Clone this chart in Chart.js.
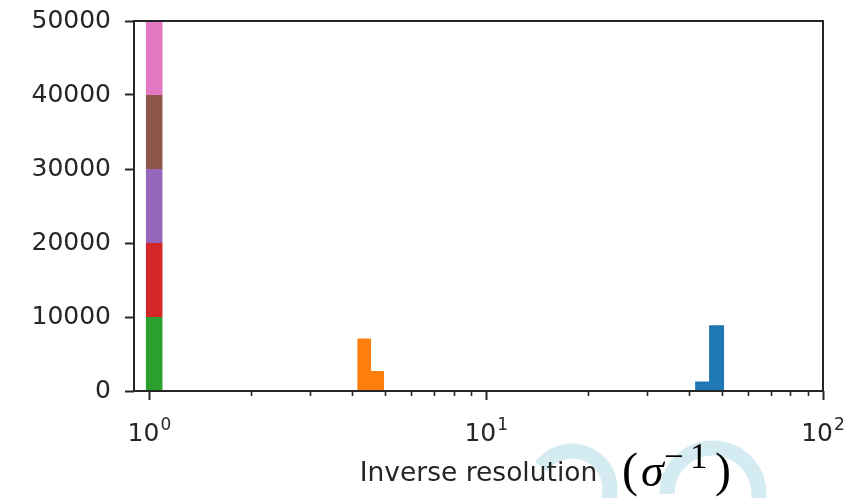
<!DOCTYPE html>
<html>
<head>
<meta charset="utf-8">
<script src="https://cdn.jsdelivr.net/npm/chart.js@4/dist/chart.umd.min.js"></script>
<style>
  html, body { margin: 0; padding: 0; background: #ffffff; }
  #wrap { width: 864px; height: 498px; }
</style>
</head>
<body>
<div id="wrap"><canvas id="hist" width="864" height="498"></canvas></div>
<script>
// Histogram bin edges (inverse resolution, log axis) and counts per series
const orangeEdges = [4.14, 4.55, 4.98];
const orangeCounts = [7100, 2700];
const blueEdges = [41.7, 45.9, 50.9];
const blueCounts = [1300, 8900];
// Stacked single-bin series sitting at 10^0
const stackEdges = [0.975, 1.095];
const stackCounts = [10000, 10000, 10000, 10000, 10000];
const stackColors = ['#2ca02c', '#d62728', '#9467bd', '#8c564b', '#e377c2'];
// Axis ticks
const xMajorTicks = [1, 10, 100];
const xTickBase = '10';
const xTickExponents = ['0', '1', '2'];
const yTicks = [0, 10000, 20000, 30000, 40000, 50000];

// Turn bin edges + counts into a closed step outline filled down to `base`
function stepOutline(edges, counts, base) {
  const pts = [{ x: edges[0], y: base }];
  counts.forEach((c, i) => {
    pts.push({ x: edges[i], y: base + c });
    pts.push({ x: edges[i + 1], y: base + c });
  });
  pts.push({ x: edges[edges.length - 1], y: base });
  return pts;
}

function histDataset(points, color, base) {
  return {
    data: points,
    backgroundColor: color,
    borderColor: color,
    borderWidth: 0,
    pointRadius: 0,
    tension: 0,
    fill: base === 0 ? 'origin' : { value: base }
  };
}

const datasets = [
  histDataset(stepOutline(blueEdges, blueCounts, 0), '#1f77b4', 0),
  histDataset(stepOutline(orangeEdges, orangeCounts, 0), '#ff7f0e', 0)
];
let base = 0;
stackCounts.forEach((c, i) => {
  datasets.push(histDataset(stepOutline(stackEdges, [c], base), stackColors[i], base));
  base += c;
});

const axisColor = '#262626';
const textColor = '#262626';
const tickFont = '"DejaVu Sans"';

// Background, decorative rings behind the figure
const backdrop = {
  id: 'backdrop',
  beforeDraw(chart) {
    const ctx = chart.ctx;
    ctx.save();
    ctx.fillStyle = '#ffffff';
    ctx.fillRect(0, 0, chart.width, chart.height);
    ctx.strokeStyle = '#d3ebf1';
    ctx.lineWidth = 15;
    ctx.beginPath();
    ctx.arc(572, 489, 38, Math.PI * 1.2, Math.PI * 2.2);
    ctx.stroke();
    ctx.beginPath();
    ctx.arc(713, 494, 46, Math.PI, Math.PI * 2.1);
    ctx.stroke();
    ctx.restore();
  }
};

// Full frame, minor log ticks, power-of-ten labels and the unit annotation
const frame = {
  id: 'frame',
  afterDraw(chart) {
    const { ctx, chartArea: a } = chart;
    const xs = chart.scales.x;
    ctx.save();
    ctx.strokeStyle = axisColor;
    ctx.lineWidth = 2;
    ctx.strokeRect(a.left, a.top, a.right - a.left, a.bottom - a.top);
    ctx.lineWidth = 1.6;
    ctx.beginPath();
    for (let k = -1; k <= 2; k++) {
      for (let m = 2; m <= 9; m++) {
        const v = m * Math.pow(10, k);
        if (v <= xs.min || v >= xs.max) continue;
        const px = Math.round(xs.getPixelForValue(v)) + 0.5;
        ctx.moveTo(px, a.bottom);
        ctx.lineTo(px, a.bottom + 5);
      }
    }
    ctx.stroke();

    // x tick labels as 10 with a raised exponent
    ctx.fillStyle = textColor;
    ctx.textBaseline = 'alphabetic';
    ctx.textAlign = 'left';
    xMajorTicks.forEach((v, i) => {
      ctx.font = '25px ' + tickFont;
      const wb = ctx.measureText(xTickBase).width;
      ctx.font = '17px ' + tickFont;
      const we = ctx.measureText(xTickExponents[i]).width;
      const cx = xs.getPixelForValue(v);
      const x0 = cx - (wb + we + 1) / 2;
      ctx.font = '25px ' + tickFont;
      ctx.fillText(xTickBase, x0, a.bottom + 50);
      ctx.font = '17px ' + tickFont;
      ctx.fillText(xTickExponents[i], x0 + wb + 1, a.bottom + 39);
    });

    // unit annotation next to the axis title
    ctx.fillStyle = '#000000';
    ctx.font = '48px "Liberation Serif"';
    ctx.fillText('(', 622, 486);
    ctx.font = 'italic 46px "Liberation Serif"';
    ctx.fillText('\u03c3', 641, 486);
    ctx.font = '35px "Liberation Serif"';
    ctx.fillText('\u2212', 664, 468);
    ctx.fillText('1', 690, 468);
    ctx.font = '48px "Liberation Serif"';
    ctx.fillText(')', 715, 486);
    ctx.restore();
  }
};

new Chart(document.getElementById('hist'), {
  type: 'line',
  data: { datasets },
  plugins: [backdrop, frame],
  options: {
    responsive: false,
    devicePixelRatio: 1,
    animation: false,
    layout: { padding: { top: 21, right: 41, left: 0, bottom: 0 } },
    plugins: { legend: { display: false }, tooltip: { enabled: false } },
    scales: {
      x: {
        type: 'logarithmic',
        min: 0.9,
        max: 100,
        afterBuildTicks(scale) {
          scale.ticks = xMajorTicks.map(v => ({ value: v, major: true }));
        },
        afterFit(scale) {
          scale.height = 107;
          scale.paddingLeft = 0;
          scale.paddingRight = 0;
        },
        border: { display: false },
        grid: {
          drawOnChartArea: false,
          drawTicks: true,
          tickLength: 9,
          tickWidth: 2,
          tickColor: axisColor
        },
        ticks: {
          autoSkip: false,
          maxRotation: 0,
          display: true,
          color: 'rgba(0,0,0,0)',
          font: { family: tickFont, size: 24 },
          callback() { return ''; }
        },
        title: {
          display: true,
          text: 'Inverse resolution',
          color: textColor,
          font: { family: tickFont, size: 26.5 },
          padding: { top: 0, bottom: 8 }
        }
      },
      y: {
        type: 'linear',
        min: 0,
        max: 50000,
        afterBuildTicks(scale) {
          scale.ticks = yTicks.map(v => ({ value: v }));
        },
        afterFit(scale) {
          scale.width = 134;
          scale.paddingTop = 0;
          scale.paddingBottom = 0;
        },
        border: { display: false },
        grid: {
          drawOnChartArea: false,
          drawTicks: true,
          tickLength: 9,
          tickWidth: 2,
          tickColor: axisColor
        },
        ticks: {
          padding: 14,
          color: textColor,
          font: { family: tickFont, size: 25 },
          callback(value) { return String(value); }
        }
      }
    }
  }
});
</script>
</body>
</html>
